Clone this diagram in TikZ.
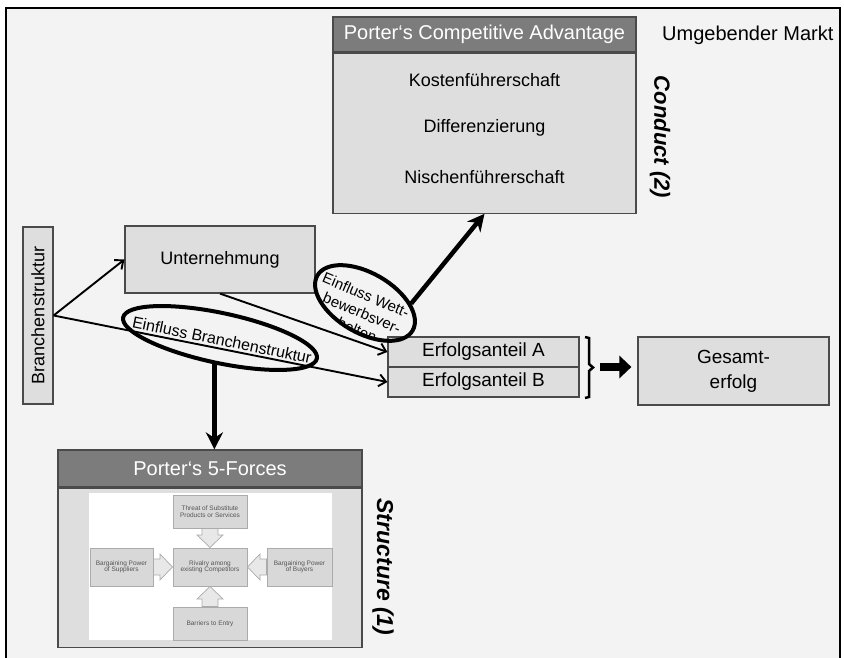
\documentclass[tikz,border=0pt]{standalone}
\usepackage{fontspec}
\setmainfont{Liberation Sans}
\usetikzlibrary{shapes.geometric,arrows.meta,calc}

\definecolor{paper}{HTML}{F3F3F3}
\definecolor{boxfill}{HTML}{DEDEDE}
\definecolor{headfill}{HTML}{7C7C7C}
\definecolor{boxline}{HTML}{4A4A4A}
\definecolor{forcefill}{HTML}{D8D8D8}
\definecolor{forceline}{HTML}{ABABAB}
\definecolor{forcetext}{HTML}{555555}

\newcommand{\fsz}[1]{\fontsize{#1}{#1}\selectfont}

\tikzset{
  box/.style={draw=boxline, fill=boxfill, line width=1.2pt, inner sep=0pt, text=black},
  head/.style={draw=boxline, fill=headfill, line width=1.2pt, inner sep=0pt, text=white},
  thinarrow/.style={line width=1.9pt, -{Straight Barb[length=7pt,width=12pt]}},
  thickarrow/.style={line width=4.5pt, -{Stealth[length=17pt,width=17pt]}},
  ring/.style={ellipse, draw=black, line width=4pt, inner sep=0pt},
  force/.style={fill=forcefill, draw=forceline, line width=0.6pt, inner sep=0pt,
                align=center, text=forcetext, font=\fsz{6.5}},
  blockarrow/.style={fill=forcefill!60!white, draw=forceline, line width=0.7pt},
  plain/.style={inner sep=0pt, text=black},
  ringtext/.style={inner sep=0pt, text=black, font=\fsz{15}, rotate=-23}
}

\begin{document}
\begin{tikzpicture}[x=1pt,y=-1pt]
\useasboundingbox (0,0) rectangle (844,658);
\clip (0,0) rectangle (844,658);

% page and surrounding frame
\fill[white] (0,0) rectangle (844,658);
\fill[paper] (6,8) rectangle (840,670);
\draw[line width=2pt] (6,670) -- (6,8) -- (840,8) -- (840,670);

% Porter's competitive advantage (conduct)
\node[head, minimum width=303pt, minimum height=35pt, font=\fsz{20}] (cahead) at (484.5,34.5) {Porter‘s Competitive Advantage};
\node[box, minimum width=303pt, minimum height=160pt, anchor=north] (cabody) at (cahead.south) {};
\node[plain, font=\fsz{18}] (kosten) at (484.5,80) {Kostenführerschaft};
\node[plain, font=\fsz{18}] (diff) at (484.5,128) {Differenzierung};
\node[plain, font=\fsz{18}] (nische) at (484.5,177) {Nischenführerschaft};

\node[plain, font=\fsz{20}, anchor=west] (markt) at (662,35) {Umgebender Markt};
\node[plain, font=\fsz{22}\bfseries\itshape, rotate=-90] (conduct) at (660,137) {Conduct (2)};

% industry structure and firm
\node[box, rotate=90, minimum width=177pt, minimum height=30pt, font=\fsz{18}] (br) at (38,315.5) {Branchenstruktur};
\node[box, minimum width=190pt, minimum height=67pt, font=\fsz{18}] (un) at (220,259.5) {Unternehmung};

% success shares and total success
\node[box, minimum width=191pt, minimum height=30pt, font=\fsz{19}] (ea) at (483.5,352) {Erfolgsanteil A};
\node[box, minimum width=191pt, minimum height=30pt, font=\fsz{19}] (eb) at (483.5,382) {Erfolgsanteil B};
\node[box, minimum width=191pt, minimum height=68pt, font=\fsz{19}, align=center] (ge) at (733.5,371) {Gesamt-\\[6pt]erfolg};

\draw[line width=2.5pt] (585,337) -- (589,338) -- (589,364) -- (593,367.5) -- (589,371) -- (589,397) -- (585,398);
\coordinate (brk) at (600,367);
\draw[line width=8pt, -{Triangle[length=12pt,width=22pt]}, shorten >=6pt] (brk) -- (brk -| ge.west);

% Porter's five forces (structure)
\node[head, minimum width=304pt, minimum height=37pt, font=\fsz{20}] (ffhead) at (210,468.5) {Porter‘s 5-Forces};
\node[box, minimum width=304pt, minimum height=159pt, anchor=north] (ffbody) at (ffhead.south) {};
\node[fill=white, minimum width=243pt, minimum height=147pt, inner sep=0pt] (ffimg) at (210.5,566.5) {};

\node[force, minimum width=74pt, minimum height=33pt] (threat) at (210,511.5) {Threat of Substitute\\Products or Services};
\node[force, minimum width=74pt, minimum height=38pt] (rivalry) at (210,567) {Rivalry among\\existing Competitors};
\node[force, minimum width=63pt, minimum height=38pt] (supp) at (121.5,567) {Bargaining Power\\of Suppliers};
\node[force, minimum width=65pt, minimum height=38pt] (buy) at (299.5,567) {Bargaining Power\\of Buyers};
\node[force, minimum width=74pt, minimum height=33pt] (entry) at (210,623.5) {Barriers to Entry};

\filldraw[blockarrow] (202,528.5) -- (218,528.5) -- (218,535) -- (223,535) -- (210,547.5) -- (197,535) -- (202,535) -- cycle;
\filldraw[blockarrow] (202,606.5) -- (218,606.5) -- (218,599) -- (223,599) -- (210,586.5) -- (197,599) -- (202,599) -- cycle;
\filldraw[blockarrow] (153.5,559) -- (160,559) -- (160,554) -- (172.5,567) -- (160,580) -- (160,575) -- (153.5,575) -- cycle;
\filldraw[blockarrow] (266.5,559) -- (260,559) -- (260,554) -- (247.5,567) -- (260,580) -- (260,575) -- (266.5,575) -- cycle;

\node[plain, font=\fsz{23}\bfseries\itshape, rotate=-90] (structure) at (383,567) {Structure (1)};

% influence connectors
\draw[thinarrow] (br.south) -- (un.west);
\draw[thinarrow] (br.south) -- (eb.west);
\draw[thinarrow] (un.south) -- (ea.west);

% influence of industry structure
\node[plain, font=\fsz{16}, rotate=-11.5] (bstxt) at (222,340) {Einfluss Branchenstruktur};
\node[ring, minimum width=198pt, minimum height=50pt, rotate=-12] (bs) at (220,338) {};
\draw[thickarrow] (bs.south) -- (bs.south |- ffhead.north);

% influence of competitive behaviour: three lines, cut by the ring
\begin{scope}
  \clip[rotate around={-30:(365,303)}] (365,303) ellipse [x radius=55pt, y radius=30pt];
  \node[ringtext] (wv1) at (366,295) {Einfluss Wett-};
  \node[ringtext] (wv2) at (362,313) {bewerbsver-};
  \node[ringtext] (wv3) at (357,330) {halten};
\end{scope}
\node[ring, minimum width=110pt, minimum height=60pt, rotate=-30] (wv) at (365,303) {};
\draw[thickarrow] (wv.north east) -- (cabody.south);

\end{tikzpicture}
\end{document}
